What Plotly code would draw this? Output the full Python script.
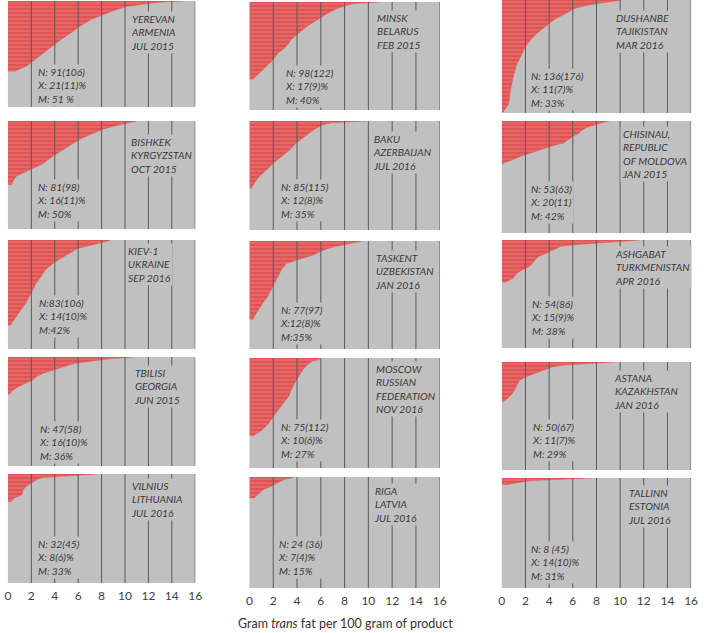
import plotly.graph_objects as go

# ---------------- data ----------------
# rank of product (0 = top) and gram trans fat per 100 g, sorted descending
yerevan_rank = [0, 1, 3, 7, 12, 18, 24, 33, 41, 50, 58, 67, 75, 84, 88, 91]
yerevan_gram = [15.1, 13.5, 12.1, 10.1, 9.1, 8.1, 7.1, 6.1, 5.4, 4.5, 3.8, 3.0, 2.3, 1.6, 1.0, 0.5]

minsk_rank = [0, 2, 4, 8, 15, 23, 31, 40, 48, 56, 65, 73, 82, 90, 96, 98]
minsk_gram = [11.0, 8.8, 8.2, 7.4, 6.5, 5.7, 4.8, 4.1, 3.5, 3.1, 2.4, 2.0, 1.4, 0.85, 0.4, 0.3]

dushanbe_rank = [0, 4, 6, 10, 16, 24, 32, 40, 48, 56, 64, 72, 80, 88, 96, 104, 112, 120, 128, 133, 136]
dushanbe_gram = [10.1, 8.2, 7.3, 6.2, 5.4, 4.4, 3.7, 3.0, 2.45, 2.0, 1.75, 1.5, 1.2, 1.06, 0.9, 0.8, 0.7, 0.65, 0.5, 0.25, 0.1]

bishkek_rank = [0, 3, 7, 11, 16, 22, 28, 37, 45, 54, 60, 64, 70, 77, 81]
bishkek_gram = [11.0, 10.0, 8.9, 8.0, 7.2, 6.3, 5.6, 4.6, 3.8, 3.0, 2.1, 1.5, 0.7, 0.4, 0.3]

baku_rank = [0, 1, 2, 5, 11, 20, 28, 36, 45, 53, 62, 70, 78, 85]
baku_gram = [9.9, 8.1, 7.0, 6.1, 5.4, 4.6, 3.9, 3.4, 2.7, 2.0, 1.4, 0.8, 0.4, 0.15]

chisinau_rank = [0, 3, 7, 11, 15, 19, 27, 31, 35, 39, 43, 48, 51, 53]
chisinau_gram = [9.1, 8.2, 7.3, 6.8, 6.5, 6.0, 5.2, 4.1, 3.3, 2.4, 1.6, 0.8, 0.15, 0.1]

kiev_rank = [0, 3, 5, 8, 13, 18, 23, 29, 36, 42, 49, 55, 62, 68, 75, 81, 83]
kiev_gram = [8.8, 7.9, 7.1, 6.0, 5.2, 4.5, 3.8, 3.2, 2.8, 2.4, 2.1, 1.8, 1.5, 1.1, 0.7, 0.3, 0.2]

taskent_rank = [0, 2, 4, 6, 9, 14, 19, 22, 28, 35, 42, 48, 55, 61, 68, 74, 77]
taskent_gram = [9.5, 8.7, 8.0, 7.0, 6.2, 5.3, 3.9, 3.1, 2.7, 2.4, 2.1, 1.8, 1.5, 1.1, 0.7, 0.4, 0.3]

ashgabat_rank = [0, 2, 4, 6, 8, 13, 17, 21, 27, 34, 38, 42, 49, 53, 54]
ashgabat_gram = [11.7, 9.5, 7.8, 6.1, 5.0, 4.2, 3.7, 3.1, 2.7, 2.3, 1.7, 1.3, 0.9, 0.3, 0.2]

tbilisi_rank = [0, 2, 4, 6, 8, 13, 17, 21, 25, 29, 33, 38, 42, 46, 47]
tbilisi_gram = [10.9, 8.8, 7.7, 6.6, 5.7, 4.6, 3.8, 2.9, 2.4, 2.1, 1.5, 0.8, 0.4, 0.15, 0.1]

moscow_rank = [0, 2, 3, 6, 11, 18, 24, 31, 37, 44, 50, 57, 63, 70, 74, 75]
moscow_gram = [6.0, 5.8, 5.3, 4.9, 4.5, 4.1, 3.8, 3.5, 3.3, 2.8, 2.4, 2.0, 1.6, 1.0, 0.5, 0.3]

astana_rank = [0, 2, 4, 6, 11, 15, 19, 23, 32, 40, 46, 50]
astana_gram = [9.6, 7.6, 5.1, 4.3, 3.4, 2.7, 2.0, 1.5, 1.2, 0.9, 0.5, 0.1]

vilnius_rank = [0, 2, 4, 6, 10, 14, 18, 24, 28, 32]
vilnius_gram = [7.6, 4.7, 3.0, 2.5, 2.0, 1.6, 1.3, 1.2, 0.5, 0.3]

riga_rank = [0, 3, 7, 11, 14, 18, 22, 24]
riga_gram = [3.8, 2.9, 2.3, 1.75, 1.2, 0.8, 0.5, 0.4]

tallinn_rank = [0, 1, 2, 3, 5, 8]
tallinn_gram = [7.6, 6.0, 3.7, 2.5, 1.5, 0.3]

place_labels = [
    "YEREVAN<br>ARMENIA<br>JUL 2015",
    "MINSK<br>BELARUS<br>FEB 2015",
    "DUSHANBE<br>TAJIKISTAN<br>MAR 2016",
    "BISHKEK<br>KYRGYZSTAN<br>OCT 2015",
    "BAKU<br>AZERBAIJAN<br>JUL 2016",
    "CHISINAU,<br>REPUBLIC<br>OF MOLDOVA<br>JAN 2015",
    "KIEV-1<br>UKRAINE<br>SEP 2016",
    "TASKENT<br>UZBEKISTAN<br>JAN 2016",
    "ASHGABAT<br>TURKMENISTAN<br>APR 2016",
    "TBILISI<br>GEORGIA<br>JUN 2015",
    "MOSCOW<br>RUSSIAN<br>FEDERATION<br>NOV 2016",
    "ASTANA<br>KAZAKHSTAN<br>JAN 2016",
    "VILNIUS<br>LITHUANIA<br>JUL 2016",
    "RIGA<br>LATVIA<br>JUL 2016",
    "TALLINN<br>ESTONIA<br>JUL 2016",
]
stat_labels = [
    "N: 91(106)<br>X: 21(11)%<br>M: 51 %",
    "N: 98(122)<br>X: 17(9)%<br>M: 40%",
    "N: 136(176)<br>X: 11(7)%<br>M: 33%",
    "N: 81(98)<br>X: 16(11)%<br>M: 50%",
    "N: 85(115)<br>X: 12(8)%<br>M: 35%",
    "N: 53(63)<br>X: 20(11)<br>M: 42%",
    "N:83(106)<br>X: 14(10)%<br>M:42%",
    "N: 77(97)<br>X:12(8)%<br>M:35%",
    "N: 54(86)<br>X: 15(9)%<br>M: 38%",
    "N: 47(58)<br>X: 16(10)%<br>M: 36%",
    "N: 75(112)<br>X: 10(6)%<br>M: 27%",
    "N: 50(67)<br>X: 11(7)%<br>M: 29%",
    "N: 32(45)<br>X: 8(6)%<br>M: 33%",
    "N: 24 (36)<br>X: 7(4)%<br>M: 15%",
    "N: 8 (45)<br>X: 14(10)%<br>M: 31%",
]
x_tick_values = [0, 2, 4, 6, 8, 10, 12, 14, 16]
x_title = "Gram <i>trans</i> fat per 100 gram of product"

series = [
    (yerevan_rank, yerevan_gram), (minsk_rank, minsk_gram), (dushanbe_rank, dushanbe_gram),
    (bishkek_rank, bishkek_gram), (baku_rank, baku_gram), (chisinau_rank, chisinau_gram),
    (kiev_rank, kiev_gram), (taskent_rank, taskent_gram), (ashgabat_rank, ashgabat_gram),
    (tbilisi_rank, tbilisi_gram), (moscow_rank, moscow_gram), (astana_rank, astana_gram),
    (vilnius_rank, vilnius_gram), (riga_rank, riga_gram), (tallinn_rank, tallinn_gram),
]

# ---------------- layout / style configuration ----------------
W, H = 704, 633
col_px = [(5, 195), (250, 443), (506, 698)]
row_px = [
    [(1, 107), (2, 110), (0, 113)],
    [(121, 229), (121, 230), (121, 233)],
    [(240, 349), (241, 349), (240, 348)],
    [(357, 466), (358, 468), (362, 470)],
    [(474, 583), (477, 588), (478, 588)],
]
# y-scale (rank count) of each panel as drawn in the original
y_scale = [137, 137, 137, 137, 137, 137, 106, 106, 137, 137, 106, 137, 126, 126, 126]
# annotation placement: x in data units, first-line centre offset (px) below panel top
place_x = [10.3, 10.6, 9.5, 10.3, 10.2, 10.0, 10.1, 10.4, 9.4, 10.6, 10.5, 9.3, 10.3, 10.3, 10.5]
place_off = [18, 16, 18, 21, 18, 13, 11, 17, 14, 16, 11, 16, 12, 14, 15]
stat_x = [2.3, 2.8, 2.2, 2.3, 2.4, 2.2, 2.4, 2.4, 2.3, 2.5, 2.4, 2.4, 2.3, 2.2, 2.2]
stat_off = [71, 71, 76, 66, 66, 68, 63, 69, 64, 72, 69, 65, 70, 67, 71]

PANEL_BG = "#c0c0c0"
GRID = "#595959"
TEXT = "#3a3a3a"
FONT = "Lato"
LABEL_SIZE = 10.3

fig = go.Figure()
layout = dict(
    width=W, height=H, margin=dict(l=0, r=0, t=0, b=0),
    paper_bgcolor="white", plot_bgcolor=PANEL_BG, showlegend=False,
    font=dict(family=FONT, color=TEXT),
)
shapes, annotations = [], []

for i, (ranks, grams) in enumerate(series):
    r, c = divmod(i, 3)
    n = i + 1
    xa, ya = ("x" if n == 1 else f"x{n}"), ("y" if n == 1 else f"y{n}")
    xkey, ykey = ("xaxis" if n == 1 else f"xaxis{n}"), ("yaxis" if n == 1 else f"yaxis{n}")
    x0, x1 = col_px[c]
    t, b = row_px[r][c]
    layout[xkey] = dict(
        domain=[x0 / W, x1 / W], range=[0, 16], anchor=ya,
        showgrid=False, zeroline=False, showline=False, ticks="",
        tickvals=x_tick_values if r == 4 else [], showticklabels=(r == 4),
        tickfont=dict(size=12, color="#404040", family=FONT),
        ticklabelstandoff=4,
        fixedrange=True,
    )
    layout[ykey] = dict(
        domain=[1 - b / H, 1 - t / H], range=[y_scale[i], 0], anchor=xa,
        showgrid=False, zeroline=False, showline=False, showticklabels=False, ticks="",
        fixedrange=True,
    )
    fig.add_trace(go.Scatter(
        x=grams, y=ranks, xaxis=xa, yaxis=ya, mode="lines",
        line=dict(color="#e05252", width=0.5), fill="tozerox",
        fillcolor="#e05a5a",
        fillpattern=dict(shape="-", bgcolor="#e05454", fgcolor="#ec9797",
                         size=4, solidity=0.3),
        hoverinfo="skip",
    ))
    for gx in x_tick_values[1:]:
        shapes.append(dict(type="line", xref=xa, yref=f"{ya} domain",
                           x0=gx, x1=gx, y0=0, y1=1, layer="above",
                           line=dict(color=GRID, width=1)))
    annotations.append(dict(
        text=place_labels[i], xref=xa, yref="paper", x=place_x[i],
        y=1 - (t + place_off[i] - 8) / H, xanchor="left", yanchor="top",
        align="left", showarrow=False, bgcolor=PANEL_BG, borderpad=1,
        font=dict(size=LABEL_SIZE, style="italic", color=TEXT, family=FONT),
    ))
    annotations.append(dict(
        text=stat_labels[i], xref=xa, yref="paper", x=stat_x[i],
        y=1 - (t + stat_off[i] - 8) / H, xanchor="left", yanchor="top",
        align="left", showarrow=False, bgcolor=PANEL_BG, borderpad=1,
        font=dict(size=LABEL_SIZE, style="italic", color=TEXT, family=FONT),
    ))

annotations.append(dict(
    text=x_title, xref="paper", yref="paper", x=347 / W, y=1 - 632.5 / H,
    xanchor="center", yanchor="bottom", showarrow=False,
    font=dict(size=12.5, color="#333333", family=FONT),
))
layout["shapes"] = shapes
layout["annotations"] = annotations
fig.update_layout(**layout)
fig.write_html(
    "out.html",
    config={"displayModeBar": False},
    post_script="document.body.style.margin='0px';document.body.style.padding='0px';",
)
